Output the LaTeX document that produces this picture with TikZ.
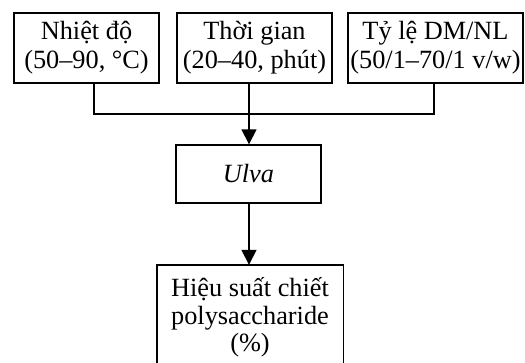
\documentclass[tikz,border=0pt]{standalone}
\usepackage{fontspec}
\setmainfont{Liberation Serif}
\usetikzlibrary{arrows.meta}
\begin{document}
\begin{tikzpicture}[x=1pt,y=-1pt,
  box/.style={draw,line width=1.4pt,rectangle,inner sep=0pt,align=center,
    font=\fontsize{26.3}{29}\selectfont},
  conn/.style={line width=1.6pt},
  arr/.style={line width=1.6pt,-{Triangle[length=15pt,width=15pt]}}]
\useasboundingbox (0,0) rectangle (525,362);
\node[box,minimum width=145pt,minimum height=70pt] (b1) at (86.5,48) {Nhiệt độ\\(50–90, °C)};
\node[box,minimum width=155pt,minimum height=70pt] (b2) at (254.5,48) {Thời gian\\(20–40, phút)};
\node[box,minimum width=175pt,minimum height=70pt] (b3) at (435.5,48) {Tỷ lệ DM/NL\\(50/1–70/1 v/w)};
\node[box,minimum width=145pt,minimum height=58pt] (ulva) at (248.5,174) {\itshape Ulva};
\node[rectangle,inner sep=0pt,align=center,minimum width=186pt,minimum height=105pt,
  font=\fontsize{26.3}{27.5}\selectfont] (hs) at (250,317.5) {Hiệu suất chiết\\polysaccharide\\(\%)};
\draw[line width=1.4pt] (hs.south west) -- (hs.north west) -- (hs.north east) -- (hs.south east);
\coordinate (j1) at (94,114);
\coordinate (jm) at (249,114);
\coordinate (j3) at (434,114);
\draw[conn] (b1.south -| j1) -- (j1) -- (j3) -- (b3.south -| j3);
\draw[conn] (b2.south -| jm) -- (jm);
\draw[arr] (jm) -- (ulva.north -| jm);
\draw[arr] (ulva.south -| jm) -- (hs.north -| jm);
\end{tikzpicture}
\end{document}
